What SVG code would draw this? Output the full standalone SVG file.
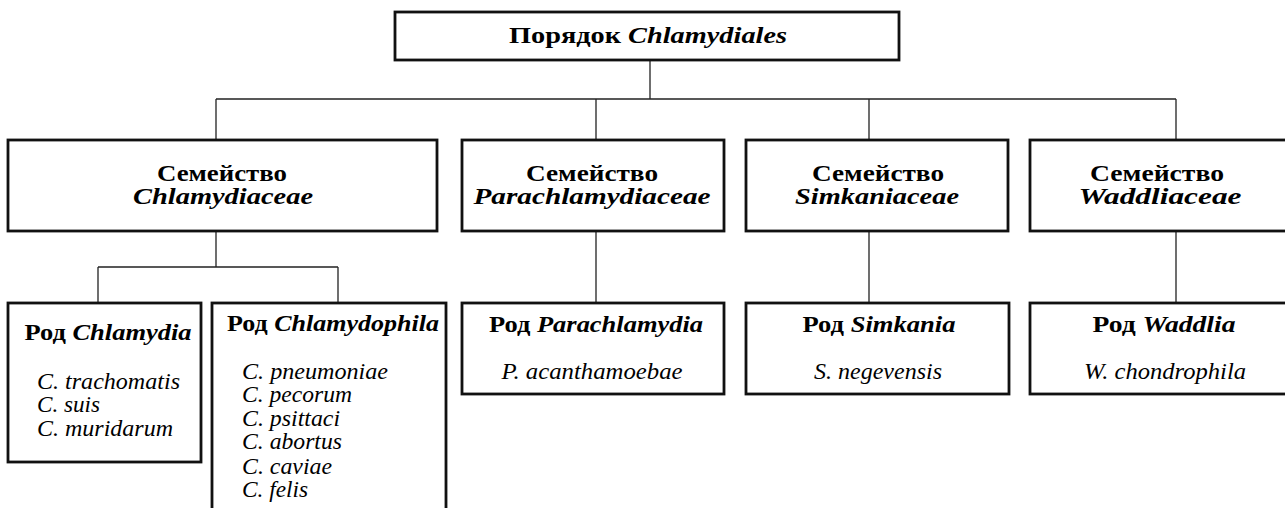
<svg xmlns="http://www.w3.org/2000/svg" width="1285" height="508" viewBox="0 0 1285 508">
<style>
.box{fill:#fff;stroke:#111;stroke-width:2.8}
.con{fill:none;stroke:#222;stroke-width:1.3}
text{font-family:"Liberation Serif","Times New Roman",serif;font-size:24px;fill:#000}
.h{font-weight:bold}
.hi{font-weight:bold;font-style:italic}
.sp{font-style:italic}
.c{text-anchor:middle}
</style>
<rect width="1285" height="508" fill="#fff"/>
<g id="connectors" class="con">
<path d="M650 60V99M216 99H1176M216 99V140M596 99V140M869 99V140M1176 99V140"/>
<path d="M216 231V267M98 267H338M98 267V303M338 267V303"/>
<path d="M596 231V303M869 231V303M1176 231V303"/>
</g>
<g id="order">
<rect class="box" x="395" y="12" width="504" height="48"/>
<text class="c" x="648" y="43" textLength="278" lengthAdjust="spacingAndGlyphs"><tspan class="h">Порядок </tspan><tspan class="hi">Chlamydiales</tspan></text>
</g>
<g id="fam-chlamydiaceae">
<rect class="box" x="8" y="140" width="429" height="91"/>
<text class="c h" x="222" y="181" textLength="130" lengthAdjust="spacingAndGlyphs">Семейство</text>
<text class="c hi" x="223" y="204" textLength="180" lengthAdjust="spacingAndGlyphs">Chlamydiaceae</text>
</g>
<g id="fam-parachlamydiaceae">
<rect class="box" x="462" y="140" width="262" height="91"/>
<text class="c h" x="592" y="181" textLength="132" lengthAdjust="spacingAndGlyphs">Семейство</text>
<text class="c hi" x="592" y="204" textLength="237" lengthAdjust="spacingAndGlyphs">Parachlamydiaceae</text>
</g>
<g id="fam-simkaniaceae">
<rect class="box" x="746" y="140" width="262" height="91"/>
<text class="c h" x="878" y="181" textLength="132" lengthAdjust="spacingAndGlyphs">Семейство</text>
<text class="c hi" x="877" y="204" textLength="164" lengthAdjust="spacingAndGlyphs">Simkaniaceae</text>
</g>
<g id="fam-waddliaceae">
<rect class="box" x="1030" y="140" width="270" height="91"/>
<text class="c h" x="1157" y="181" textLength="134" lengthAdjust="spacingAndGlyphs">Семейство</text>
<text class="c hi" x="1160" y="204" textLength="163" lengthAdjust="spacingAndGlyphs">Waddliaceae</text>
</g>
<g id="gen-chlamydia">
<rect class="box" x="8" y="303" width="193" height="159"/>
<text class="c" x="108" y="340" textLength="167" lengthAdjust="spacingAndGlyphs"><tspan class="h">Род </tspan><tspan class="hi">Chlamydia</tspan></text>
<text class="sp" x="37" y="389" textLength="143" lengthAdjust="spacingAndGlyphs">C. trachomatis</text>
<text class="sp" x="37" y="412" textLength="63" lengthAdjust="spacingAndGlyphs">C. suis</text>
<text class="sp" x="37" y="436" textLength="136" lengthAdjust="spacingAndGlyphs">C. muridarum</text>
</g>
<g id="gen-chlamydophila">
<rect class="box" x="212" y="303" width="234" height="220"/>
<text class="c" x="333" y="331" textLength="212" lengthAdjust="spacingAndGlyphs"><tspan class="h">Род </tspan><tspan class="hi">Chlamydophila</tspan></text>
<text class="sp" x="242" y="379" textLength="146" lengthAdjust="spacingAndGlyphs">C. pneumoniae</text>
<text class="sp" x="242" y="402" textLength="110" lengthAdjust="spacingAndGlyphs">C. pecorum</text>
<text class="sp" x="242" y="426" textLength="98" lengthAdjust="spacingAndGlyphs">C. psittaci</text>
<text class="sp" x="242" y="449" textLength="100" lengthAdjust="spacingAndGlyphs">C. abortus</text>
<text class="sp" x="242" y="474" textLength="90" lengthAdjust="spacingAndGlyphs">C. caviae</text>
<text class="sp" x="242" y="497" textLength="66" lengthAdjust="spacingAndGlyphs">C. felis</text>
</g>
<g id="gen-parachlamydia">
<rect class="box" x="462" y="303" width="262" height="91"/>
<text class="c" x="596" y="332" textLength="214" lengthAdjust="spacingAndGlyphs"><tspan class="h">Род </tspan><tspan class="hi">Parachlamydia</tspan></text>
<text class="c sp" x="592" y="379" textLength="181" lengthAdjust="spacingAndGlyphs">P. acanthamoebae</text>
</g>
<g id="gen-simkania">
<rect class="box" x="746" y="303" width="263" height="91"/>
<text class="c" x="879" y="332" textLength="153" lengthAdjust="spacingAndGlyphs"><tspan class="h">Род </tspan><tspan class="hi">Simkania</tspan></text>
<text class="c sp" x="878" y="379" textLength="128" lengthAdjust="spacingAndGlyphs">S. negevensis</text>
</g>
<g id="gen-waddlia">
<rect class="box" x="1030" y="303" width="270" height="91"/>
<text class="c" x="1164" y="332" textLength="143" lengthAdjust="spacingAndGlyphs"><tspan class="h">Род </tspan><tspan class="hi">Waddlia</tspan></text>
<text class="c sp" x="1165" y="379" textLength="162" lengthAdjust="spacingAndGlyphs">W. chondrophila</text>
</g>
</svg>
